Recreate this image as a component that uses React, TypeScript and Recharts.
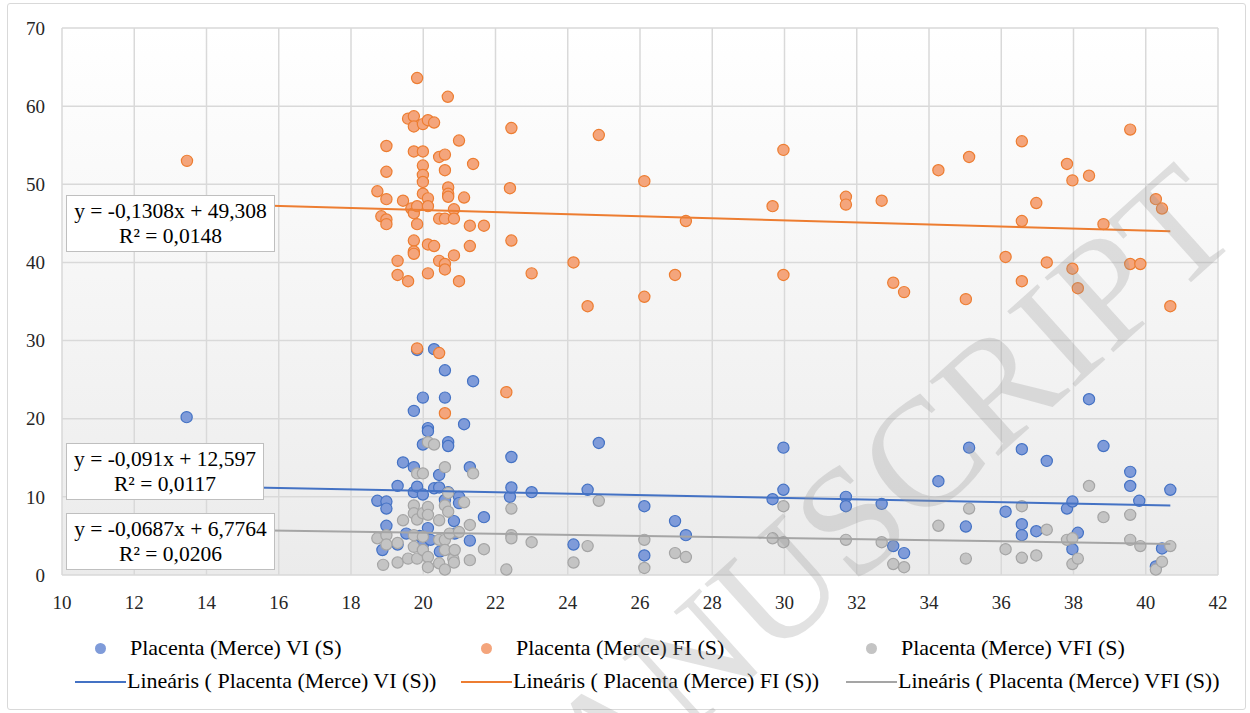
import { ScatterChart, Scatter, XAxis, YAxis, CartesianGrid } from "recharts";

// Placenta (Merce) VI (S)
const viPoints: [number, number][] = [
  [13.45, 20.2],
  [18.73, 9.5], [18.87, 3.2], [18.98, 9.4], [18.98, 8.5], [18.98, 6.3], [19.29, 11.4], [19.29, 3.9], [19.44, 14.4], [19.53, 5.3],
  [19.74, 21.0], [19.74, 13.8], [19.74, 10.6], [19.83, 28.8], [19.83, 11.3], [19.9, 5.0],
  [19.99, 22.7], [19.99, 16.7], [19.99, 10.3], [19.99, 3.9],
  [20.13, 18.8], [20.13, 18.4], [20.13, 6.0], [20.2, 4.5],
  [20.3, 28.9], [20.3, 11.1], [20.44, 12.8], [20.44, 11.2], [20.46, 3.0],
  [20.6, 26.2], [20.6, 22.7], [20.6, 9.6], [20.69, 17.0], [20.69, 16.5], [20.69, 10.6],
  [20.85, 6.9], [20.87, 5.3], [20.99, 10.0], [20.99, 9.2],
  [21.13, 19.3], [21.29, 13.8], [21.29, 4.4], [21.38, 24.8], [21.68, 7.4],
  [22.4, 10.0], [22.44, 15.1], [22.44, 11.2], [23.0, 10.6],
  [24.16, 3.9], [24.55, 10.9], [24.86, 16.9], [26.12, 8.8], [26.12, 2.5], [26.97, 6.9], [27.27, 5.1],
  [29.67, 9.7], [29.97, 16.3], [29.97, 10.9],
  [31.7, 10.0], [31.7, 8.8], [32.69, 9.1], [33.01, 3.7], [33.31, 2.8],
  [34.26, 12.0], [35.02, 6.2], [35.11, 16.3], [36.12, 8.1], [36.57, 16.1], [36.57, 6.5], [36.57, 5.1], [36.97, 5.6],
  [37.26, 14.6], [37.82, 8.5], [37.97, 9.4], [37.97, 3.3], [38.12, 5.4], [38.43, 22.5], [38.83, 16.5],
  [39.57, 13.2], [39.57, 11.4], [39.82, 9.5], [40.28, 1.1], [40.45, 3.4], [40.68, 10.9],
];

// Placenta (Merce) FI (S)
const fiPoints: [number, number][] = [
  [13.46, 53.0],
  [18.73, 49.1], [18.84, 45.9], [18.98, 54.9], [18.98, 51.6], [18.98, 48.1], [18.98, 45.5], [18.98, 44.9],
  [19.29, 40.2], [19.29, 38.4], [19.44, 47.9], [19.58, 58.4], [19.58, 37.6], [19.67, 46.9],
  [19.74, 58.7], [19.74, 57.4], [19.74, 54.2], [19.74, 46.3], [19.74, 42.8], [19.74, 41.4], [19.74, 41.1],
  [19.83, 63.6], [19.83, 47.2], [19.83, 44.9], [19.83, 29.0],
  [19.99, 57.7], [19.99, 54.2], [19.99, 52.4], [19.99, 51.2], [19.99, 50.3], [19.99, 48.8],
  [20.13, 58.2], [20.13, 48.2], [20.13, 47.2], [20.13, 42.3], [20.13, 38.6],
  [20.3, 57.9], [20.3, 42.1],
  [20.44, 53.5], [20.44, 45.6], [20.44, 40.2], [20.44, 28.4],
  [20.6, 53.8], [20.6, 51.8], [20.6, 45.6], [20.6, 39.8], [20.6, 39.1], [20.6, 20.7],
  [20.68, 61.2], [20.69, 49.6], [20.69, 48.8], [20.69, 48.4],
  [20.85, 46.8], [20.85, 45.6], [20.85, 40.9],
  [20.99, 55.6], [20.99, 37.6],
  [21.13, 48.3], [21.29, 44.7], [21.29, 42.1], [21.38, 52.6], [21.68, 44.7],
  [22.3, 23.4], [22.4, 49.5], [22.44, 57.2], [22.44, 42.8], [23.0, 38.6],
  [24.16, 40.0], [24.55, 34.4], [24.86, 56.3], [26.12, 50.4], [26.12, 35.6], [26.97, 38.4], [27.27, 45.3],
  [29.67, 47.2], [29.97, 54.4], [29.97, 38.4],
  [31.7, 48.4], [31.7, 47.4], [32.69, 47.9], [33.01, 37.4], [33.31, 36.2],
  [34.26, 51.8], [35.02, 35.3], [35.11, 53.5], [36.12, 40.7], [36.57, 55.5], [36.57, 45.3], [36.57, 37.6], [36.97, 47.6],
  [37.26, 40.0], [37.82, 52.6], [37.97, 50.5], [37.97, 39.2], [38.12, 36.7], [38.43, 51.1], [38.83, 44.9],
  [39.57, 57.0], [39.57, 39.8], [39.85, 39.8], [40.28, 48.1], [40.45, 46.9], [40.68, 34.4],
];

// Placenta (Merce) VFI (S)
const vfiPoints: [number, number][] = [
  [13.46, 5.0],
  [18.73, 4.7], [18.89, 1.3], [18.98, 5.1], [18.98, 3.9], [19.29, 4.1], [19.29, 1.6], [19.44, 7.0], [19.58, 2.1],
  [19.74, 8.9], [19.74, 7.9], [19.74, 5.1], [19.74, 3.6], [19.83, 13.0], [19.83, 7.1], [19.83, 2.1],
  [19.99, 13.0], [19.99, 7.9], [19.99, 4.9], [19.99, 3.2],
  [20.13, 17.0], [20.13, 8.7], [20.13, 7.7], [20.13, 2.3], [20.13, 1.0],
  [20.3, 16.7], [20.44, 7.0], [20.44, 4.5], [20.44, 1.5],
  [20.6, 13.8], [20.6, 8.9], [20.6, 4.5], [20.6, 3.2], [20.6, 0.7],
  [20.69, 10.5], [20.69, 8.1], [20.73, 5.3], [20.83, 2.1], [20.85, 1.6], [20.87, 3.2],
  [20.99, 5.5], [21.13, 9.3], [21.29, 6.4], [21.29, 1.9], [21.38, 13.0], [21.68, 3.3],
  [22.3, 0.7], [22.44, 8.5], [22.44, 5.1], [22.44, 4.7], [23.0, 4.2],
  [24.16, 1.6], [24.55, 3.7], [24.86, 9.5], [26.12, 4.5], [26.12, 0.9], [26.97, 2.8], [27.27, 2.3],
  [29.67, 4.7], [29.97, 8.8], [29.97, 4.2],
  [31.7, 4.5], [32.69, 4.2], [33.01, 1.4], [33.31, 1.0],
  [34.26, 6.3], [35.02, 2.1], [35.11, 8.5], [36.12, 3.3], [36.57, 8.8], [36.57, 2.2], [36.97, 2.5], [37.26, 5.8],
  [37.82, 4.5], [37.97, 4.7], [37.97, 1.4], [38.12, 2.1], [38.43, 11.4], [38.83, 7.4],
  [39.57, 7.7], [39.57, 4.5], [39.85, 3.7], [40.28, 0.7], [40.45, 1.7], [40.68, 3.7],
];

const seriesNames = ["Placenta (Merce) VI (S)", "Placenta (Merce) FI (S)", "Placenta (Merce) VFI (S)"];
const seriesStroke = ["#4472c4", "#ed7d31", "#a5a5a5"];
const seriesFill = ["#7f9bd9", "#f4a57c", "#c4c4c4"];

// trend lines as printed on the chart
const trendSlopes = [-0.091, -0.1308, -0.0687];
const trendIntercepts = [12.597, 49.308, 6.7764];
const trendRange = [13.46, 40.68];
const trendLabels = [
  ["y = -0,091x + 12,597", "R² = 0,0117"],
  ["y = -0,1308x + 49,308", "R² = 0,0148"],
  ["y = -0,0687x + 6,7764", "R² = 0,0206"],
];

const xTicks = [10, 12, 14, 16, 18, 20, 22, 24, 26, 28, 30, 32, 34, 36, 38, 40, 42];
const yTicks = [0, 10, 20, 30, 40, 50, 60, 70];

const FONT = "'Liberation Serif', 'DejaVu Serif', 'Noto Serif', serif";

const toData = (pts: [number, number][]) => pts.map(([x, y]) => ({ x, y }));

const trendData = trendSlopes.map((m, i) =>
  trendRange.map((x) => ({ x, y: m * x + trendIntercepts[i] }))
);

const boxStyle = (left: number, top: number, width: number, height: number): React.CSSProperties => ({
  position: "absolute", left, top, width, height, boxSizing: "border-box",
  background: "#fff", border: "1.5px solid #bfbfbf", fontFamily: FONT,
  fontSize: 21.5, lineHeight: "25px", color: "#000", textAlign: "center",
  paddingTop: 3, whiteSpace: "nowrap",
});

export default function App() {
  const seriesPts = [viPoints, fiPoints, vfiPoints];
  const boxes = [
    { left: 66, top: 443, w: 198, h: 57 },
    { left: 66, top: 195, w: 209, h: 57 },
    { left: 66, top: 513, w: 209, h: 57 },
  ];
  const legendX = [75, 461, 846];

  return (
    <div style={{ position: "absolute", left: 0, top: 0, width: 1250, height: 713, background: "#fff", overflow: "hidden", fontFamily: FONT }}>
      <div style={{ position: "absolute", left: 7, top: 3, width: 1237, height: 705, border: "1px solid #d9d9d9", borderRadius: 3 }} />
      <ScatterChart width={1250} height={713} margin={{ top: 28, right: 32, bottom: 108, left: 12 }} style={{ fontFamily: FONT }}>
        <defs>
          <linearGradient id="plotBg" x1="0" y1="0" x2="0" y2="1">
            <stop offset="0" stopColor="#ffffff" />
            <stop offset="1" stopColor="#ebebeb" />
          </linearGradient>
        </defs>
        <CartesianGrid stroke="#d9d9d9" strokeWidth={1.5} fill="url(#plotBg)" fillOpacity={1} />
        <XAxis
          type="number" dataKey="x" domain={[10, 42]} ticks={xTicks} height={30}
          axisLine={false} tickLine={false} tickMargin={15}
          tick={{ fontFamily: FONT, fontSize: 19, fill: "#262626" }}
        />
        <YAxis
          type="number" dataKey="y" domain={[0, 70]} ticks={yTicks} width={50}
          axisLine={false} tickLine={false} tickMargin={11}
          tick={{ fontFamily: FONT, fontSize: 19, fill: "#262626" }}
        />
        {seriesPts.map((pts, i) => (
          <Scatter
            key={seriesNames[i]}
            name={seriesNames[i]}
            data={toData(pts)}
            isAnimationActive={false}
            shape={(p: any) => (
              <circle cx={p.cx} cy={p.cy} r={5.6} fill={seriesFill[i]} stroke={seriesStroke[i]} strokeWidth={1.2} />
            )}
          />
        ))}
        {trendData.map((d, i) => (
          <Scatter
            key={"trend" + i}
            data={d}
            isAnimationActive={false}
            line={{ stroke: seriesStroke[i], strokeWidth: 2 }}
            lineType="joint"
            shape={() => <g />}
            legendType="none"
          />
        ))}
      </ScatterChart>

      {boxes.map((b, i) => (
        <div key={"box" + i} style={boxStyle(b.left, b.top, b.w, b.h)}>
          <div>{trendLabels[i][0]}</div>
          <div>{trendLabels[i][1]}</div>
        </div>
      ))}

      {seriesNames.map((name, i) => (
        <div key={"leg" + i}>
          <div style={{ position: "absolute", left: legendX[i] + 20, top: 643, width: 11, height: 11, borderRadius: "50%", background: seriesFill[i] }} />
          <div style={{ position: "absolute", left: legendX[i] + 55, top: 635, fontFamily: FONT, fontSize: 22, color: "#000", whiteSpace: "nowrap" }}>
            {name}
          </div>
          <div style={{ position: "absolute", left: legendX[i], top: 681, width: 51, height: 2, background: seriesStroke[i] }} />
          <div style={{ position: "absolute", left: legendX[i] + 52, top: 668, fontFamily: FONT, fontSize: 22, color: "#000", whiteSpace: "nowrap" }}>
            {"Lineáris ( " + name + ")"}
          </div>
        </div>
      ))}

      <div
        style={{
          position: "absolute", left: 838, top: 531, transform: "translate(-50%, -50%) rotate(-42deg)",
          fontFamily: FONT, fontSize: 155, color: "rgba(150,150,150,0.28)", whiteSpace: "nowrap",
          pointerEvents: "none", lineHeight: 1,
        }}
      >
        MANUSCRIPT
      </div>
    </div>
  );
}
